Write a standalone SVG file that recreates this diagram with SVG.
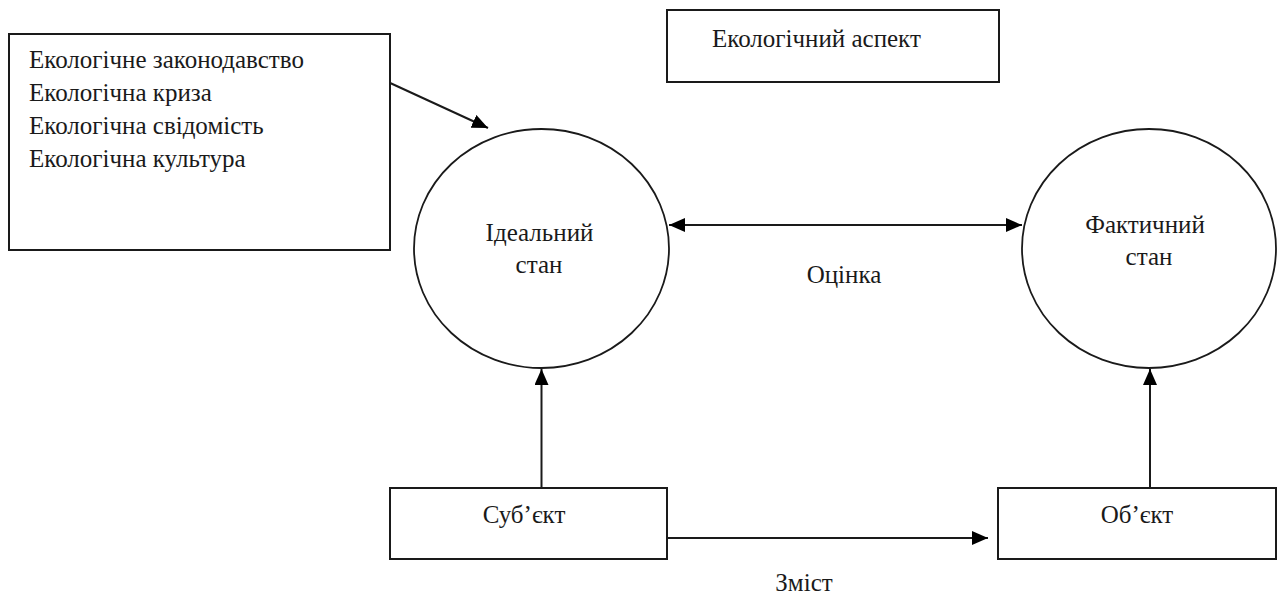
<svg xmlns="http://www.w3.org/2000/svg" width="1277" height="596" viewBox="0 0 1277 596" font-family="Liberation Serif">
<defs>
<style>
.box{fill:#fff;stroke:#1a1a1a;stroke-width:2}
.ell{fill:#fff;stroke:#1a1a1a;stroke-width:1.8}
.t{font-family:'Liberation Serif',serif;font-size:25px;fill:#1a1a1a}
.c{text-anchor:middle}
.ln{stroke:#1a1a1a;stroke-width:2;fill:none}
</style>
<marker id="ah" markerUnits="userSpaceOnUse" markerWidth="18" markerHeight="14" refX="16" refY="7" orient="auto-start-reverse">
<path d="M0,0 L16,7 L0,14 Z" fill="#000"/>
</marker>
</defs>
<rect width="1277" height="596" fill="#fff"/>
<g id="connectors">
<line class="ln" x1="388" y1="82" x2="488" y2="128" marker-end="url(#ah)"/>
<line class="ln" x1="669" y1="225" x2="1022" y2="225" marker-start="url(#ah)" marker-end="url(#ah)"/>
<line class="ln" x1="541.5" y1="488" x2="541.5" y2="369" marker-end="url(#ah)"/>
<line class="ln" x1="1150" y1="488" x2="1150" y2="369" marker-end="url(#ah)"/>
<line class="ln" x1="667" y1="538" x2="988" y2="538" marker-end="url(#ah)"/>
<text class="t c" x="844" y="283" style="font-family:'Liberation Serif',serif">Оцінка</text>
<text class="t c" x="804" y="591" style="font-family:'Liberation Serif',serif">Зміст</text>
</g>
<g id="factors">
<rect class="box" x="9" y="34" width="381" height="216"/>
<text class="t" x="29" y="68" style="font-family:'Liberation Serif',serif">Екологічне законодавство</text>
<text class="t" x="29" y="101" style="font-family:'Liberation Serif',serif">Екологічна криза</text>
<text class="t" x="29" y="134" style="font-family:'Liberation Serif',serif">Екологічна свідомість</text>
<text class="t" x="29" y="167" style="font-family:'Liberation Serif',serif">Екологічна культура</text>
</g>
<g id="aspect">
<rect class="box" x="667" y="10" width="332" height="72"/>
<text class="t" x="712" y="47" style="font-family:'Liberation Serif',serif">Екологічний аспект</text>
</g>
<g id="ideal">
<ellipse class="ell" cx="541.5" cy="248.5" rx="127.5" ry="119.5"/>
<text class="t c" x="539.5" y="241" style="font-family:'Liberation Serif',serif">Ідеальний</text>
<text class="t c" x="539" y="273" style="font-family:'Liberation Serif',serif">стан</text>
</g>
<g id="actual">
<ellipse class="ell" cx="1149" cy="248.5" rx="127" ry="119.5"/>
<text class="t c" x="1145" y="233" style="font-family:'Liberation Serif',serif">Фактичний</text>
<text class="t c" x="1149" y="265" style="font-family:'Liberation Serif',serif">стан</text>
</g>
<g id="subject">
<rect class="box" x="390" y="488" width="277" height="71"/>
<text class="t c" x="524" y="523" style="font-family:'Liberation Serif',serif">Суб’єкт</text>
</g>
<g id="object">
<rect class="box" x="998" y="488" width="278" height="71"/>
<text class="t c" x="1137" y="523" style="font-family:'Liberation Serif',serif">Об’єкт</text>
</g>
</svg>
